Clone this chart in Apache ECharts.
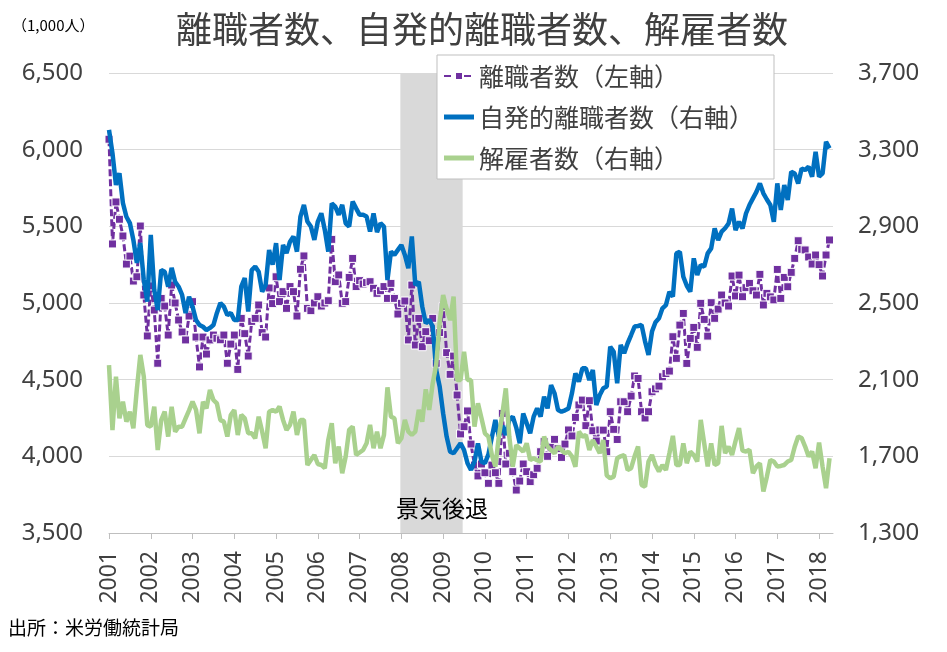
<!DOCTYPE html>
<html>
<head>
<meta charset="utf-8">
<script src="https://cdn.jsdelivr.net/npm/echarts@6/dist/echarts.min.js"></script>
<style>
html,body{margin:0;padding:0;background:#fff;}
#chart{width:947px;height:652px;}
</style>
</head>
<body>
<div id="chart"></div>
<script>
// Monthly data, 2001-01 .. 2018-04 (208 months), units: 1,000 persons
const startYear = 2001;
const yearTicks = [2001,2002,2003,2004,2005,2006,2007,2008,2009,2010,2011,2012,2013,2014,2015,2016,2017,2018];
const leftTicks = [3500,4000,4500,5000,5500,6000,6500];
const rightTicks = [1300,1700,2100,2500,2900,3300,3700];
const recession = ['2007-12', '2009-06'];

// 離職者数 (left axis)
const separations = [6068,5385,5659,5546,5437,5254,5306,5143,5171,5502,
5052,4785,5111,4954,4607,5030,4980,4791,5117,5000,
4889,4811,4759,4915,5009,4778,4583,4778,4667,4759,
4791,4770,4760,4791,4607,4732,4791,4567,4900,4800,
4654,4880,4900,4987,4807,4778,5098,4996,5171,5009,
5074,4965,5107,5074,4915,5220,5307,4965,4950,5000,
5041,4980,5000,5015,5415,5139,5183,4998,5009,5167,
5291,5107,5146,5124,5133,5139,5096,5063,5080,5107,
5030,5128,5030,4928,4998,5013,4759,5117,4726,4900,
4715,4813,4754,4900,4607,4807,4976,4676,4535,4654,
4400,4146,4193,4296,4080,3943,3872,3950,3893,3824,
3943,3893,3824,4280,3950,4020,3900,3780,3839,3950,
3900,3835,3880,3922,4030,4096,4000,4060,4111,4050,
3993,4080,4172,4133,4254,4335,4367,4200,4363,4167,
4100,4172,4171,4030,4291,4176,4110,4356,4356,4291,
4393,4524,4508,4291,4250,4291,4421,4440,4458,4519,
4540,4556,4780,4639,4856,4932,4606,4769,4841,4711,
4998,4893,4784,5002,4900,4960,5052,5000,4980,5176,
5046,5182,5041,5100,5128,5080,5052,5187,4987,5063,
5040,5020,5219,5030,5167,5106,5200,5291,5406,5350,
5346,5300,5254,5313,5250,5176,5313,5411];

// 自発的離職者数 (right axis)
const quits = [3403,3281,3116,3177,3022,2950,2917,2829,2709,2813,
2620,2507,2855,2568,2463,2672,2663,2585,2683,2611,
2585,2542,2448,2533,2481,2411,2385,2376,2359,2370,
2385,2448,2500,2481,2437,2448,2411,2411,2585,2630,
2455,2672,2690,2663,2559,2594,2777,2700,2812,2620,
2803,2760,2820,2847,2768,2951,3012,2925,2899,2829,
2925,2968,2881,2768,3020,3003,2960,3012,2916,2899,
3029,2994,2960,2960,2951,2873,2968,2870,2916,2899,
2620,2768,2751,2777,2803,2751,2681,2847,2594,2610,
2481,2394,2412,2377,2150,2064,1924,1803,1724,1716,
1742,1768,1733,1664,1629,1672,1768,1672,1664,1710,
1800,1890,1803,1860,1811,1890,1907,1850,1768,1924,
1872,1820,1907,1950,1907,2011,1950,2072,2029,1942,
1933,1940,1950,2029,2133,2090,2159,2159,2098,2150,
1968,2020,2055,2064,2272,2246,2081,2281,2238,2290,
2333,2377,2380,2386,2300,2229,2351,2400,2420,2472,
2489,2559,2533,2759,2767,2637,2590,2559,2733,2646,
2698,2689,2759,2785,2889,2828,2872,2890,2915,2993,
2880,2924,2889,2967,3011,3046,3080,3124,3072,3040,
3011,2924,3124,2985,3115,3037,3185,3176,3124,3202,
3194,3211,3159,3289,3159,3176,3341,3307];

// 解雇者数 (right axis)
const layoffs = [2176,1837,2116,1898,1985,1881,1933,1846,2050,2229,
2116,1863,1855,1959,1733,1889,1933,1803,1959,1829,
1855,1855,1898,1940,1985,1942,1820,1985,1950,2046,
1994,1976,1889,1881,1803,1916,1942,1811,1916,1898,
1820,1820,1794,1907,1829,1742,1933,1942,1933,1960,
1890,1838,1864,1933,1812,1890,1890,1655,1681,1707,
1660,1655,1638,1786,1873,1664,1751,1612,1699,1838,
1855,1707,1720,1733,1768,1864,1742,1829,1742,1812,
2060,1907,1899,1768,1794,1890,1829,1812,1829,1942,
1881,2050,1942,2081,2177,2400,2542,2470,2411,2533,
2098,2098,2246,2098,2098,1855,1977,1900,1820,1803,
1707,1646,1803,1920,2055,1803,1646,1759,1742,1724,
1768,1681,1690,1680,1672,1803,1751,1733,1716,1751,
1733,1716,1724,1700,1646,1829,1803,1811,1733,1785,
1751,1716,1785,1600,1586,1594,1690,1700,1707,1629,
1638,1700,1751,1551,1542,1673,1707,1655,1621,1655,
1629,1716,1807,1655,1655,1768,1664,1725,1707,1673,
1890,1768,1647,1768,1655,1664,1859,1716,1751,1707,
1780,1847,1730,1725,1734,1612,1647,1664,1516,1594,
1681,1673,1647,1650,1655,1673,1681,1750,1803,1795,
1751,1699,1725,1638,1772,1647,1534,1690];

const seriesNames = ['離職者数（左軸）', '自発的離職者数（右軸）', '解雇者数（右軸）'];
const colors = ['#7030A0', '#0070C0', '#A9D18E'];

function monthIndex(s) {
  const p = s.split('-');
  return (parseInt(p[0], 10) - startYear) * 12 + (parseInt(p[1], 10) - 1);
}
function toPairs(arr) { return arr.map((v, i) => [i, v]); }
function fmt(v) { return String(v).replace(/\B(?=(\d{3})+(?!\d))/g, ','); }

const xTickValues = yearTicks.map(y => (y - startYear) * 12);
const numFont = 'Noto Sans';
const cjkFont = '"Noto Sans CJK JP"';
const flatIcon = 'path://M0,0H30V5H0Z';

const chart = echarts.init(document.getElementById('chart'), null, {renderer: 'canvas'});
chart.setOption({
  animation: false,
  backgroundColor: '#ffffff',
  title: {
    text: '離職者数、自発的離職者数、解雇者数',
    left: 171, top: 6,
    textStyle: {fontFamily: cjkFont, fontSize: 36, fontWeight: 'normal', color: '#404040'}
  },
  legend: {
    orient: 'vertical',
    left: 437, top: 55,
    padding: [6, 20, 6, 6],
    itemGap: 11,
    itemWidth: 30, itemHeight: 10,
    symbolKeepAspect: true,
    backgroundColor: '#ffffff',
    borderColor: '#bfbfbf', borderWidth: 1,
    textStyle: {fontFamily: cjkFont, fontSize: 25, color: '#404040', lineHeight: 30},
    data: [
      {name: seriesNames[0]},
      {name: seriesNames[1], icon: flatIcon, itemStyle: {color: colors[1]}},
      {name: seriesNames[2], icon: flatIcon, itemStyle: {color: colors[2]}}
    ]
  },
  grid: {left: 109, right: 114, top: 73, bottom: 119, containLabel: false},
  xAxis: {
    type: 'value', min: 0, max: 208,
    axisLine: {show: true, lineStyle: {color: '#bfbfbf', width: 1}},
    axisTick: {show: true, customValues: xTickValues, length: 6, lineStyle: {color: '#bfbfbf'}},
    splitLine: {show: false},
    axisLabel: {
      customValues: xTickValues,
      rotate: 90, margin: 18,
      fontFamily: numFont, fontSize: 23, color: '#404040',
      formatter: v => String(startYear + Math.round(v / 12))
    }
  },
  yAxis: [
    {
      type: 'value', min: leftTicks[0], max: leftTicks[leftTicks.length - 1], interval: 500,
      axisLine: {show: false}, axisTick: {show: false},
      splitLine: {show: true, lineStyle: {color: '#d9d9d9', width: 1}},
      axisLabel: {fontFamily: numFont, fontSize: 24, color: '#404040', margin: 26, formatter: fmt}
    },
    {
      type: 'value', min: rightTicks[0], max: rightTicks[rightTicks.length - 1], interval: 400,
      axisLine: {show: false}, axisTick: {show: false},
      splitLine: {show: false},
      axisLabel: {fontFamily: numFont, fontSize: 24, color: '#404040', margin: 25, formatter: fmt}
    }
  ],
  series: [
    {
      name: seriesNames[0], type: 'line', yAxisIndex: 0, z: 2,
      data: toPairs(separations),
      symbol: 'rect', symbolSize: 8, showAllSymbol: true,
      lineStyle: {color: colors[0], width: 3, type: [7, 3]},
      itemStyle: {color: colors[0], borderColor: '#ffffff', borderWidth: 1},
      markArea: {
        silent: true,
        itemStyle: {color: '#d9d9d9', opacity: 1},
        label: {show: false},
        data: [[{xAxis: monthIndex(recession[0]) + 0.7}, {xAxis: monthIndex(recession[1]) + 0.6}]]
      }
    },
    {
      name: seriesNames[1], type: 'line', yAxisIndex: 1, z: 3,
      data: toPairs(quits), symbol: 'none',
      lineStyle: {color: colors[1], width: 4.5},
      itemStyle: {color: colors[1]}
    },
    {
      name: seriesNames[2], type: 'line', yAxisIndex: 1, z: 4,
      data: toPairs(layoffs), symbol: 'none',
      lineStyle: {color: colors[2], width: 4.5},
      itemStyle: {color: colors[2]}
    }
  ],
  graphic: [
    {type: 'text', z: 100, left: 12, top: 18, style: {text: '（1,000人）', font: '15px "Noto Sans CJK JP"', fill: '#000000'}},
    {type: 'text', z: 100, left: 396, top: 497, style: {text: '景気後退', font: '23px "Noto Sans CJK JP"', fill: '#000000'}},
    {type: 'text', z: 100, left: 8, top: 618, style: {text: '出所：米労働統計局', font: '19px "Noto Sans CJK JP"', fill: '#000000'}}
  ]
});
</script>
</body>
</html>
